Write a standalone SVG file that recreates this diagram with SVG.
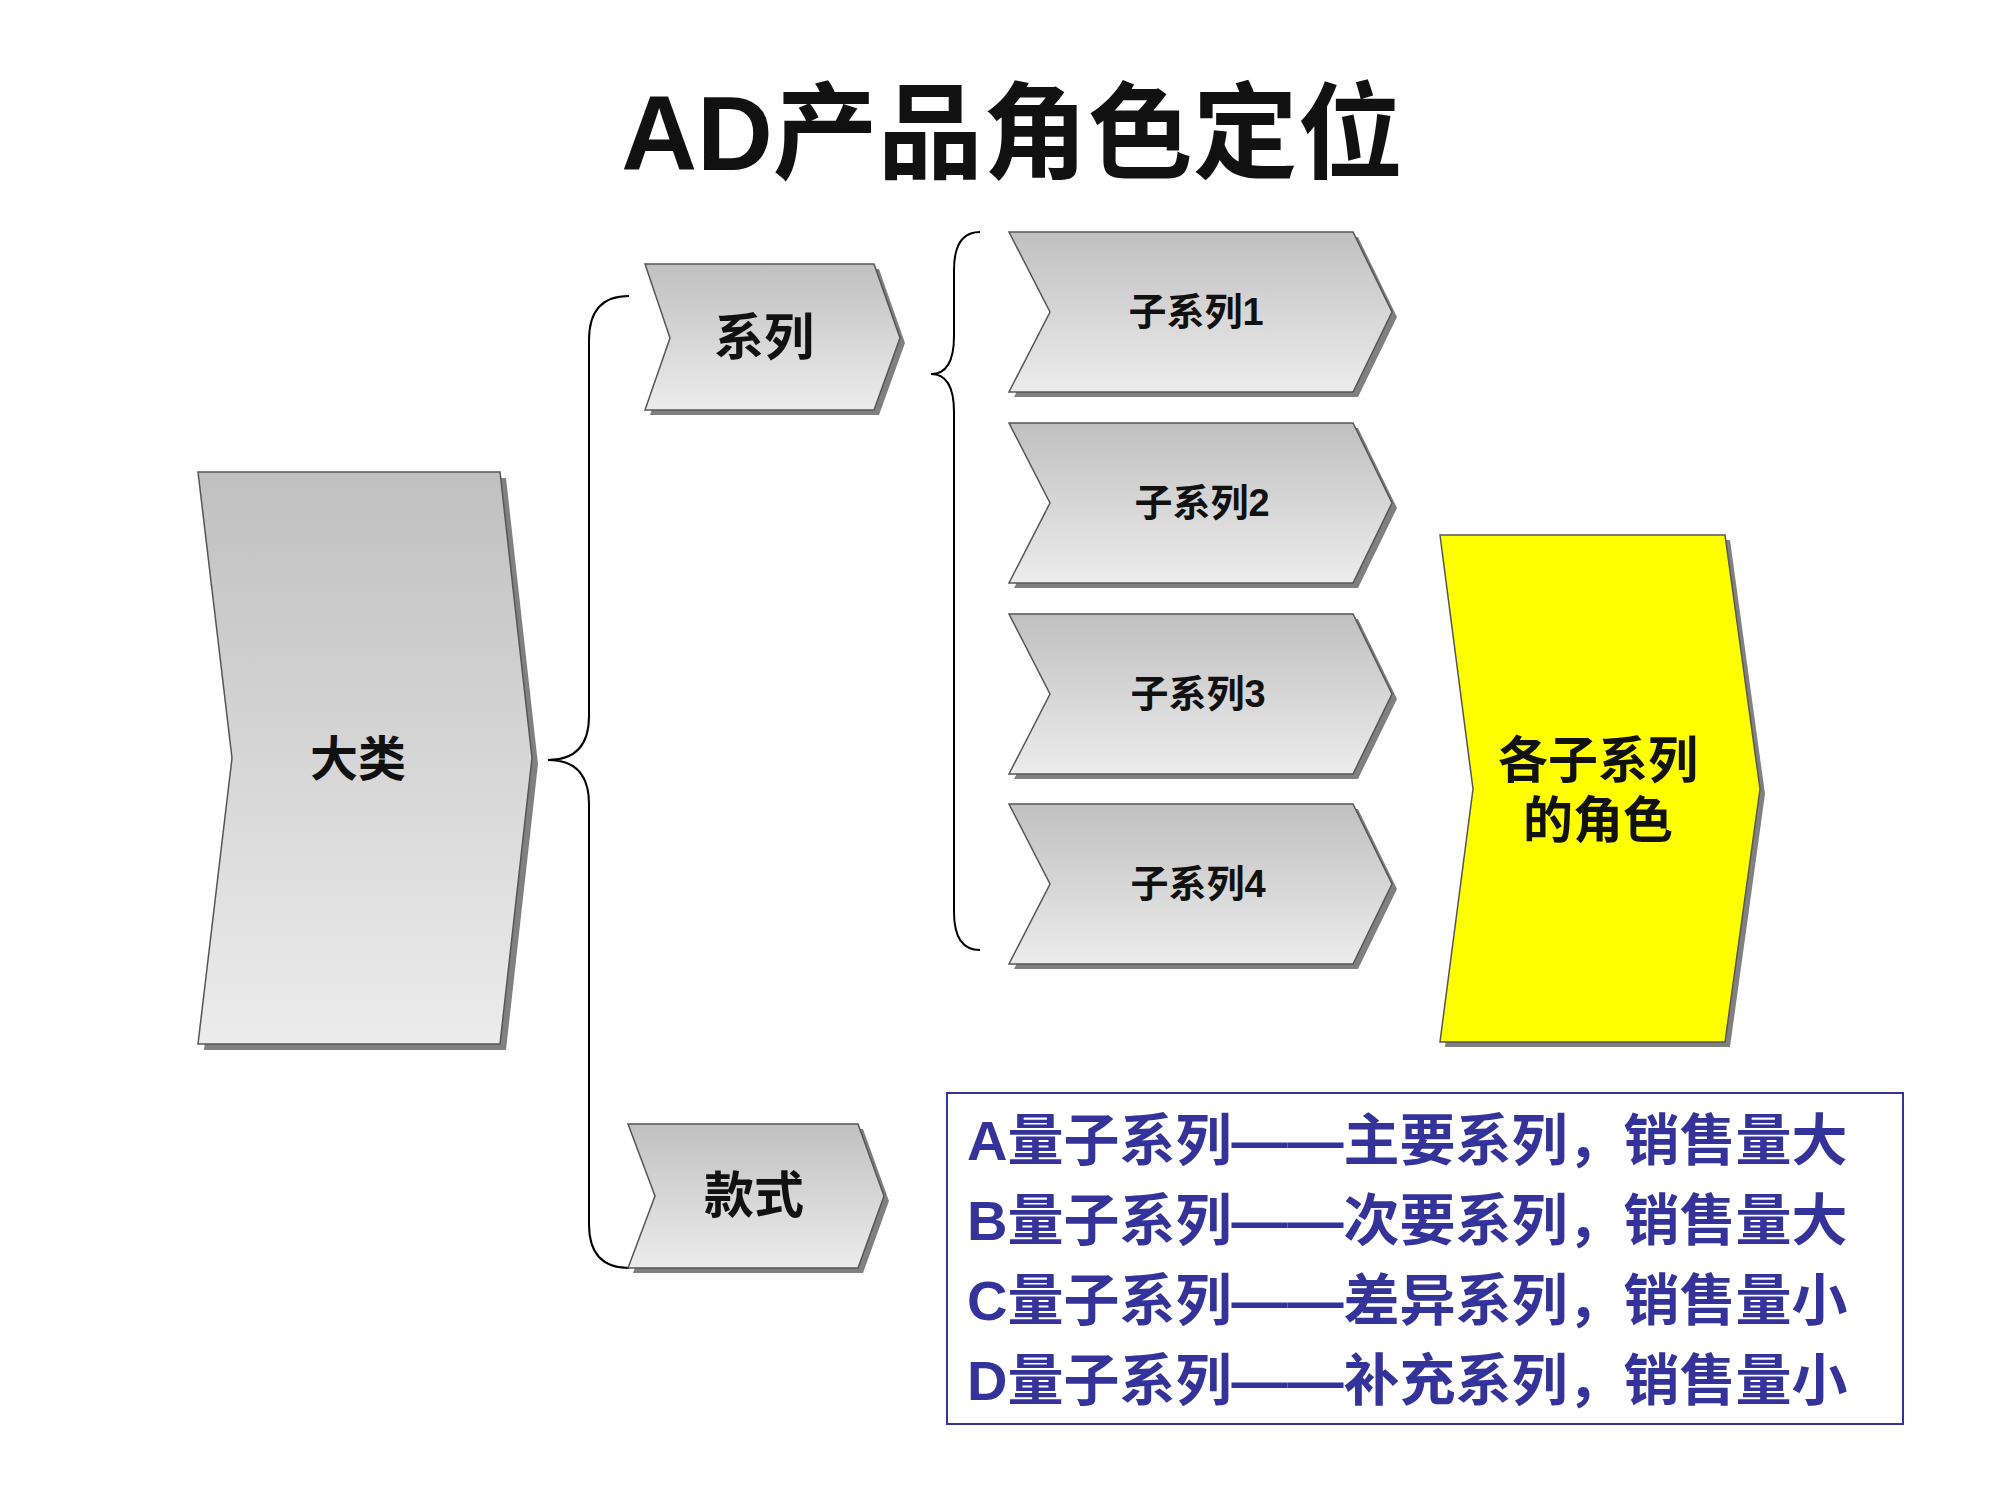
<svg xmlns="http://www.w3.org/2000/svg" width="2000" height="1500" viewBox="0 0 2000 1500">
<defs>
<linearGradient id="g" x1="0" y1="0" x2="0" y2="1"><stop offset="0" stop-color="#c0c0c0"/><stop offset="1" stop-color="#ececec"/></linearGradient>
<style>
.sh{fill:#808080}
.n{fill:url(#g);stroke:#555;stroke-width:1.5}
.y{fill:#ffff00;stroke:#555;stroke-width:1.5}
.t{font-family:"Liberation Sans","Noto Sans CJK SC",sans-serif;fill:#111;text-anchor:middle;font-weight:bold}
.b{font-family:"Liberation Sans","Noto Sans CJK SC",sans-serif;fill:#333399;font-size:56px;font-weight:bold}
.c{fill:none;stroke:#000;stroke-width:2}
</style>
</defs>
<rect width="2000" height="1500" fill="#fff"/>
<text class="t" x="1012" y="170" font-size="105" fill="#000">AD产品角色定位</text>
<g id="connectors">
<path class="c" d="M629,296 Q589,296 589,340 L589,716 Q589,760 548,760 Q589,760 589,804 L589,1224 Q589,1268 629,1268"/>
<path class="c" d="M980,232 Q954,232 954,270 L954,336 Q954,374 931,374 Q954,374 954,412 L954,912 Q954,950 980,950"/>
</g>
<g id="dalei">
<polygon class="sh" points="204,478 506,478 538,764 506,1050 204,1050 238,764"/>
<polygon class="n" points="198,472 500,472 532,758 500,1044 198,1044 232,758"/>
<text class="t" x="358" y="776" font-size="48">大类</text>
</g>
<g id="xilie">
<polygon class="sh" points="650,269 879,269 905,343 879,415 650,415 675,343"/>
<polygon class="n" points="645,264 874,264 900,338 874,410 645,410 670,338"/>
<text class="t" x="764" y="355" font-size="50">系列</text>
</g>
<g id="kuanshi">
<polygon class="sh" points="633,1129 863,1129 889,1201 863,1273 633,1273 660,1201"/>
<polygon class="n" points="628,1124 858,1124 884,1196 858,1268 628,1268 655,1196"/>
<text class="t" x="754" y="1213" font-size="50">款式</text>
</g>
<g id="sub1">
<polygon class="sh" points="1014,237 1358,237 1397,317 1358,397 1014,397 1055,317"/>
<polygon class="n" points="1009,232 1353,232 1392,312 1353,392 1009,392 1050,312"/>
<text class="t" x="1196" y="325" font-size="38">子系列1</text>
</g>
<g id="sub2">
<polygon class="sh" points="1014,428 1358,428 1397,508 1358,588 1014,588 1055,508"/>
<polygon class="n" points="1009,423 1353,423 1392,503 1353,583 1009,583 1050,503"/>
<text class="t" x="1202" y="516" font-size="38">子系列2</text>
</g>
<g id="sub3">
<polygon class="sh" points="1014,619 1358,619 1397,699 1358,779 1014,779 1055,699"/>
<polygon class="n" points="1009,614 1353,614 1392,694 1353,774 1009,774 1050,694"/>
<text class="t" x="1198" y="707" font-size="38">子系列3</text>
</g>
<g id="sub4">
<polygon class="sh" points="1014,809 1358,809 1397,889 1358,969 1014,969 1055,889"/>
<polygon class="n" points="1009,804 1353,804 1392,884 1353,964 1009,964 1050,884"/>
<text class="t" x="1198" y="897" font-size="38">子系列4</text>
</g>
<g id="role">
<polygon class="sh" points="1445,540 1730,540 1765,794 1730,1047 1445,1047 1478,794"/>
<polygon class="y" points="1440,535 1725,535 1760,789 1725,1042 1440,1042 1473,789"/>
<text class="t" x="1598" y="778" font-size="50">各子系列</text>
<text class="t" x="1598" y="838" font-size="50">的角色</text>
</g>
<g id="legend">
<rect x="947" y="1093" width="956" height="331" fill="#fff" stroke="#333399" stroke-width="2"/>
<text class="b" x="967" y="1160">A量子系列——主要系列，销售量大</text>
<text class="b" x="967" y="1240">B量子系列——次要系列，销售量大</text>
<text class="b" x="967" y="1320">C量子系列——差异系列，销售量小</text>
<text class="b" x="967" y="1400">D量子系列——补充系列，销售量小</text>
</g>
</svg>
